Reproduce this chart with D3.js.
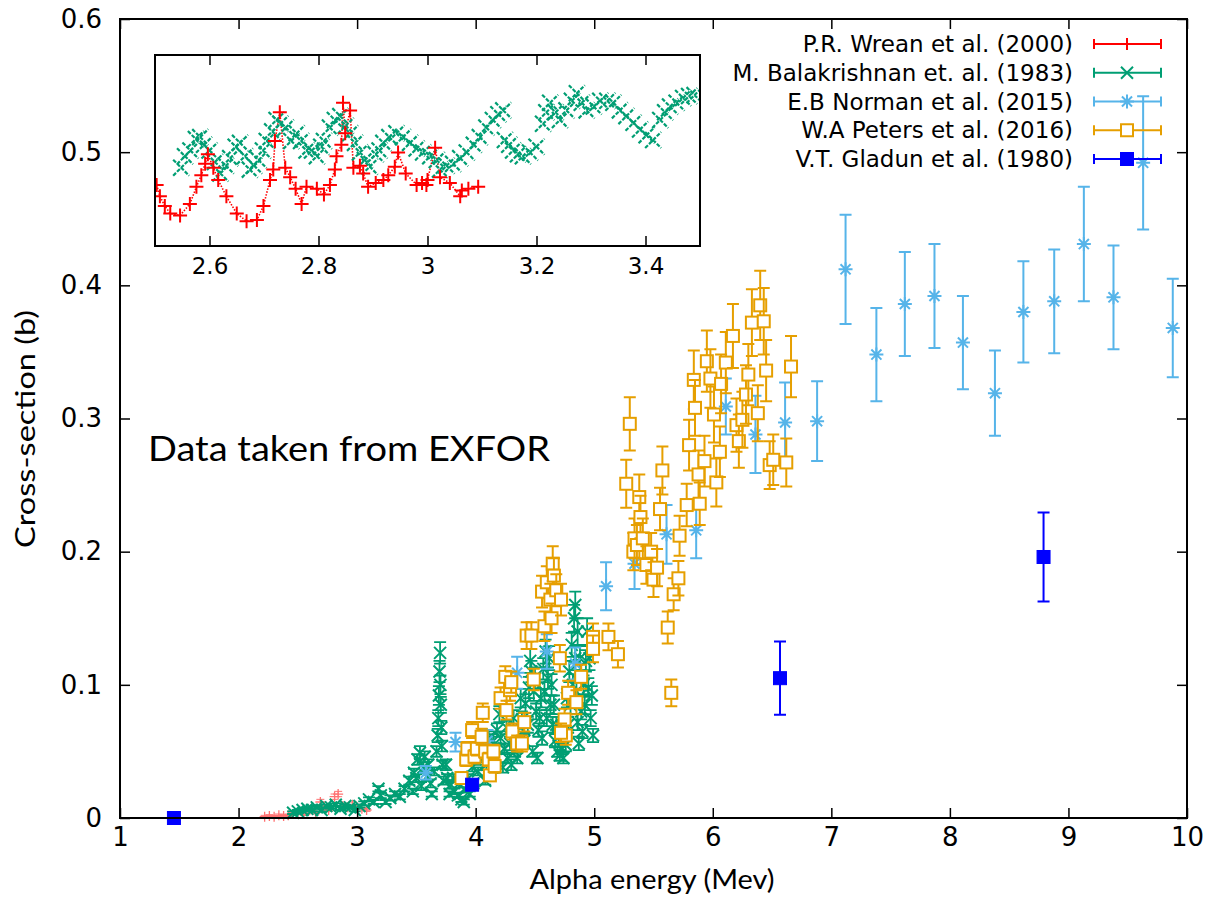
<!DOCTYPE html>
<html>
<head>
<meta charset="utf-8">
<script src="https://cdn.jsdelivr.net/npm/d3@7"></script>
<style>
  body { margin: 0; background: #fff; }
  svg { display: block; }
</style>
</head>
<body>
<svg id="chart" width="1217" height="908"></svg>
<script>

// ---- data: [energy (MeV), cross-section (b), error (b)] ----
var xTicks = [1, 2, 3, 4, 5, 6, 7, 8, 9, 10];
var yTicks = [0, 0.1, 0.2, 0.3, 0.4, 0.5, 0.6];
var insetTicks = [2.6, 2.8, 3.0, 3.2, 3.4];

var seriesNames = ["P.R. Wrean et al. (2000)", "M. Balakrishnan et. al. (1983)",
  "E.B Norman et al. (2015)", "W.A Peters et al. (2016)", "V.T. Gladun et al. (1980)"];

var wrean = [
  [2.22,0.001,0.001],[2.26,0.0015,0.001],[2.30,0.001,0.001],[2.34,0.002,0.001],[2.38,0.0015,0.001],
  [2.42,0.002,0.001],[2.46,0.003,0.001],[2.50,0.004,0.001],[2.55,0.003,0.001],[2.60,0.006,0.001],
  [2.65,0.004,0.001],[2.69,0.012,0.002],[2.72,0.008,0.002],[2.76,0.006,0.001],[2.81,0.016,0.002],
  [2.84,0.018,0.002],[2.88,0.009,0.002],[2.92,0.008,0.001],[2.96,0.010,0.002],[3.00,0.008,0.001],
  [3.04,0.007,0.001],[3.08,0.006,0.001]
];

var balakrishnan = [
  [2.46,0.004,0.001],[2.50,0.005,0.001],[2.54,0.006,0.001],[2.58,0.007,0.001],[2.62,0.006,0.001],
  [2.66,0.008,0.001],[2.70,0.006,0.001],[2.74,0.009,0.001],[2.78,0.008,0.001],[2.82,0.010,0.001],
  [2.86,0.007,0.001],[2.90,0.009,0.001],[2.94,0.008,0.001],[2.98,0.006,0.001],[3.02,0.009,0.001],
  [3.06,0.011,0.0015],[3.10,0.014,0.0015],[3.14,0.012,0.0015],[3.18,0.022,0.002],[3.20,0.017,0.002],
  [3.24,0.012,0.0015],[3.28,0.015,0.002],[3.32,0.018,0.002],[3.36,0.016,0.002],[3.40,0.022,0.002],
  [3.44,0.028,0.003],[3.48,0.034,0.003],[3.51,0.044,0.004],[3.53,0.049,0.005],[3.56,0.038,0.004],
  [3.59,0.031,0.003],[3.62,0.026,0.003],[3.65,0.035,0.003],[3.67,0.050,0.004],
  [3.68,0.062,0.005],[3.685,0.075,0.006],[3.69,0.092,0.007],[3.695,0.110,0.008],[3.70,0.124,0.008],
  [3.703,0.100,0.007],[3.706,0.085,0.006],[3.71,0.068,0.005],[3.715,0.054,0.004],[3.72,0.040,0.003],
  [3.73,0.028,0.003],[3.76,0.030,0.003],[3.79,0.025,0.003],[3.82,0.020,0.002],[3.85,0.017,0.002],
  [3.88,0.014,0.002],[3.91,0.021,0.002],[3.94,0.030,0.003],[3.97,0.038,0.003],[4.00,0.044,0.004],
  [4.03,0.050,0.004],[4.06,0.046,0.004],[4.09,0.040,0.004],[4.12,0.048,0.004],[4.15,0.058,0.005],
  [4.18,0.066,0.005],[4.21,0.060,0.005],[4.24,0.052,0.004],[4.27,0.045,0.004],[4.30,0.040,0.004],
  [4.33,0.050,0.004],[4.36,0.062,0.005],[4.39,0.074,0.006],[4.42,0.086,0.007],[4.45,0.098,0.008],
  [4.47,0.110,0.008],[4.49,0.095,0.007],[4.51,0.080,0.006],[4.53,0.066,0.005],[4.55,0.090,0.007],
  [4.57,0.112,0.008],[4.59,0.125,0.009],[4.61,0.105,0.008],[4.63,0.085,0.007],[4.65,0.070,0.006],
  [4.67,0.058,0.005],[4.69,0.050,0.004],[4.71,0.047,0.004],[4.73,0.052,0.004],[4.75,0.070,0.005],
  [4.77,0.090,0.007],[4.79,0.110,0.008],[4.81,0.130,0.009],[4.83,0.150,0.010],[4.84,0.120,0.009],
  [4.85,0.095,0.008],[4.86,0.072,0.006],[4.87,0.056,0.005],[4.89,0.080,0.006],[4.91,0.100,0.007],
  [4.93,0.118,0.008],[4.95,0.098,0.007],[4.97,0.075,0.006],[4.99,0.062,0.005],
  // second, scattered set of the same measurement (widens the band)
  [3.47,0.020,0.002],[3.50,0.030,0.003],[3.54,0.024,0.003],[3.57,0.046,0.004],[3.60,0.040,0.004],
  [3.63,0.018,0.002],[3.75,0.040,0.004],[3.78,0.018,0.002],[3.81,0.030,0.003],[3.86,0.026,0.003],
  [3.90,0.012,0.002],[3.95,0.018,0.002],[3.98,0.026,0.003],[4.02,0.035,0.003],[4.05,0.062,0.005],
  [4.08,0.028,0.003],[4.11,0.060,0.005],[4.14,0.038,0.004],[4.17,0.052,0.004],[4.20,0.078,0.006],
  [4.23,0.038,0.004],[4.26,0.068,0.005],[4.29,0.056,0.005],[4.32,0.075,0.006],[4.35,0.045,0.004],
  [4.38,0.090,0.007],[4.41,0.058,0.005],[4.44,0.070,0.006],[4.46,0.118,0.009],[4.48,0.050,0.004],
  [4.50,0.105,0.008],[4.52,0.045,0.004],[4.54,0.075,0.006],[4.56,0.060,0.005],[4.58,0.095,0.007],
  [4.60,0.075,0.006],[4.62,0.120,0.009],[4.64,0.100,0.008],[4.66,0.085,0.007],[4.68,0.070,0.006],
  [4.70,0.062,0.005],[4.72,0.068,0.005],[4.74,0.045,0.004],[4.76,0.055,0.005],[4.78,0.070,0.006],
  [4.80,0.085,0.007],[4.82,0.100,0.008],[4.84,0.160,0.010],[4.86,0.140,0.010],[4.88,0.120,0.009],
  [4.90,0.065,0.005],[4.92,0.085,0.007],[4.94,0.140,0.010],[4.96,0.120,0.009],[4.98,0.092,0.007]
];

var norman = [
  [3.58,0.034,0.005],[3.83,0.057,0.007],[4.10,0.058,0.008],[4.35,0.109,0.012],[4.60,0.125,0.013],
  [4.84,0.116,0.012],[5.10,0.174,0.018],[5.34,0.191,0.019],[5.61,0.213,0.022],[5.86,0.216,0.021],
  [6.11,0.309,0.021],[6.36,0.288,0.029],[6.61,0.297,0.030],[6.88,0.298,0.030],[7.12,0.412,0.041],
  [7.38,0.348,0.035],[7.62,0.386,0.039],[7.87,0.392,0.039],[8.11,0.357,0.035],[8.38,0.319,0.032],
  [8.62,0.380,0.038],[8.88,0.388,0.039],[9.13,0.431,0.043],[9.38,0.391,0.039],[9.63,0.492,0.050],
  [9.88,0.368,0.037]
];

var peters = [
  [3.88,0.030,0.004],[3.92,0.044,0.005],[3.93,0.052,0.005],[3.97,0.066,0.006],[3.99,0.046,0.005],
  [4.01,0.052,0.005],[4.05,0.061,0.006],[4.06,0.079,0.007],[4.08,0.050,0.005],[4.11,0.044,0.005],
  [4.12,0.032,0.004],[4.15,0.050,0.005],[4.16,0.039,0.005],[4.21,0.090,0.008],[4.25,0.106,0.008],
  [4.26,0.081,0.007],[4.29,0.096,0.008],[4.30,0.102,0.008],[4.31,0.065,0.006],[4.35,0.056,0.006],
  [4.39,0.056,0.006],[4.41,0.072,0.007],[4.43,0.137,0.010],[4.47,0.137,0.010],[4.49,0.104,0.008],
  [4.56,0.170,0.012],[4.58,0.144,0.011],[4.60,0.177,0.012],[4.63,0.164,0.012],[4.64,0.150,0.011],
  [4.65,0.191,0.013],[4.66,0.182,0.013],[4.68,0.171,0.012],[4.72,0.164,0.012],[4.71,0.120,0.010],
  [4.78,0.094,0.009],[4.75,0.074,0.008],[4.76,0.062,0.007],[4.72,0.064,0.007],[4.85,0.087,0.009],
  [4.89,0.106,0.009],[4.99,0.136,0.010],[4.99,0.127,0.010],[5.12,0.136,0.010],[5.20,0.123,0.010],
  [5.33,0.200,0.014],[5.27,0.251,0.018],[5.30,0.296,0.020],[5.34,0.210,0.015],[5.36,0.205,0.015],
  [5.38,0.241,0.017],[5.39,0.226,0.016],[5.41,0.210,0.015],[5.44,0.190,0.014],[5.48,0.200,0.014],
  [5.50,0.179,0.013],[5.53,0.188,0.014],[5.555,0.232,0.016],[5.575,0.261,0.018],[5.62,0.143,0.012],
  [5.65,0.094,0.010],[5.67,0.168,0.012],[5.71,0.180,0.013],[5.72,0.212,0.015],[5.78,0.235,0.016],
  [5.80,0.280,0.019],[5.84,0.329,0.022],[5.85,0.308,0.021],[5.88,0.258,0.018],[5.89,0.236,0.016],
  [5.93,0.268,0.019],[5.95,0.343,0.023],[5.98,0.330,0.022],[6.01,0.303,0.021],[6.03,0.252,0.018],
  [6.06,0.275,0.019],[6.07,0.326,0.022],[6.11,0.342,0.023],[6.17,0.362,0.024],[6.20,0.295,0.020],
  [6.22,0.283,0.020],[6.25,0.299,0.021],[6.28,0.318,0.022],[6.30,0.333,0.023],[6.33,0.372,0.025],
  [6.38,0.304,0.021],[6.40,0.385,0.026],[6.43,0.373,0.025],[6.45,0.336,0.023],[6.48,0.265,0.018],
  [6.51,0.269,0.019],[6.62,0.267,0.018],[6.66,0.339,0.023]
];

var gladun = [
  [1.455,0.0,0.0],[3.97,0.025,0.0],[6.567,0.105,0.0275],[8.79,0.196,0.0335]
];

// inset (2.5 - 3.5 MeV), relative height inside the inset box
var wreanInset = [
  [2.503,0.32],[2.509,0.26],[2.518,0.21],[2.528,0.17],[2.546,0.16],[2.564,0.22],[2.576,0.31],
  [2.585,0.37],[2.592,0.43],[2.597,0.48],[2.607,0.41],[2.616,0.345],[2.631,0.26],[2.65,0.17],
  [2.668,0.13],[2.687,0.136],[2.699,0.21],[2.711,0.345],[2.717,0.40],[2.72,0.55],[2.729,0.70],
  [2.739,0.41],[2.748,0.36],[2.758,0.30],[2.769,0.22],[2.778,0.31],[2.797,0.30],[2.81,0.27],
  [2.821,0.32],[2.83,0.40],[2.833,0.47],[2.842,0.53],[2.845,0.75],[2.849,0.59],[2.858,0.71],
  [2.864,0.41],[2.876,0.42],[2.882,0.38],[2.891,0.31],[2.905,0.33],[2.919,0.345],[2.928,0.37],
  [2.94,0.415],[2.946,0.49],[2.96,0.38],[2.98,0.32],[2.99,0.33],[2.998,0.32],[3.0,0.345],
  [3.014,0.515],[3.023,0.36],[3.041,0.33],[3.06,0.26],[3.063,0.29],[3.075,0.30],[3.093,0.31]
];

var balakrishnanInset = [
  [2.548,0.41],[2.555,0.47],[2.565,0.50],[2.575,0.56],[2.583,0.57],[2.59,0.53],[2.60,0.50],
  [2.61,0.44],[2.62,0.38],[2.63,0.42],[2.638,0.46],[2.648,0.52],[2.656,0.54],[2.665,0.47],
  [2.674,0.40],[2.682,0.42],[2.69,0.45],[2.698,0.50],[2.705,0.55],[2.715,0.60],[2.723,0.66],
  [2.73,0.64],[2.74,0.62],[2.75,0.55],[2.76,0.59],[2.768,0.55],[2.778,0.50],[2.788,0.50],
  [2.797,0.47],[2.805,0.52],[2.81,0.55],[2.821,0.62],[2.83,0.66],[2.84,0.68],[2.85,0.63],
  [2.858,0.59],[2.867,0.54],[2.876,0.49],[2.885,0.45],[2.894,0.415],[2.905,0.48],[2.912,0.50],
  [2.919,0.54],[2.93,0.57],[2.943,0.59],[2.955,0.57],[2.968,0.54],[2.98,0.51],[2.992,0.49],
  [3.005,0.47],[3.017,0.45],[3.023,0.40],[3.035,0.42],[3.047,0.43],[3.06,0.46],[3.072,0.49],
  [3.085,0.53],[3.096,0.57],[3.108,0.62],[3.12,0.66],[3.13,0.69],[3.139,0.71],[3.142,0.555],
  [3.15,0.53],[3.157,0.50],[3.166,0.48],[3.175,0.47],[3.188,0.49],[3.20,0.52],[3.212,0.64],
  [3.218,0.70],[3.225,0.75],[3.235,0.70],[3.243,0.66],[3.255,0.71],[3.265,0.76],[3.274,0.80],
  [3.283,0.75],[3.292,0.71],[3.305,0.73],[3.317,0.76],[3.33,0.76],[3.341,0.75],[3.353,0.71],
  [3.365,0.68],[3.378,0.645],[3.39,0.61],[3.402,0.58],[3.414,0.555],[3.427,0.66],[3.436,0.70],
  [3.445,0.73],[3.457,0.75],[3.469,0.775],[3.48,0.785],[3.49,0.79]
];

// ---- drawing ----
var svg = d3.select("#chart");
var plotLeft = 120, plotRight = 1187, plotTop = 19, plotBottom = 818;

var x = d3.scaleLinear().domain([1, 10]).range([plotLeft, plotRight]);
var y = d3.scaleLinear().domain([0, 0.6]).range([plotBottom, plotTop]);

var red = "#ff0000", green = "#009e73", sky = "#56b4e9", orange = "#e69f00", blue = "#0000ff";
var tickFont = "'DejaVu Sans', sans-serif";
var labelFont = "Lato, 'Open Sans', sans-serif";

svg.append("rect").attr("width", 1217).attr("height", 908).attr("fill", "#fff");

var defs = svg.append("defs");
// points on the frame stay whole, so the clip is a little bigger than the frame
defs.append("clipPath").attr("id", "plotclip")
  .append("rect").attr("x", plotLeft - 8).attr("y", plotTop)
  .attr("width", plotRight - plotLeft + 16).attr("height", plotBottom - plotTop + 8);

function markerPath(type, px, py, r) 
{
  if (type === "plus")
    return "M" + (px - r) + "," + py + "H" + (px + r) + "M" + px + "," + (py - r) + "V" + (py + r);
  if (type === "cross")
    return "M" + (px - r) + "," + (py - r) + "L" + (px + r) + "," + (py + r) +
           "M" + (px - r) + "," + (py + r) + "L" + (px + r) + "," + (py - r);
  if (type === "star") {
    var k = r * 0.72;
    return markerPath("plus", px, py, r) +
           "M" + (px - k) + "," + (py - k) + "L" + (px + k) + "," + (py + k) +
           "M" + (px - k) + "," + (py + k) + "L" + (px + k) + "," + (py - k);
  }
  return "";
}

function drawMarker(g, type, px, py, r, color, sw) 
{
  if (type === "box" || type === "fbox") {
    g.append("rect")
      .attr("x", px - r).attr("y", py - r)
      .attr("width", 2 * r).attr("height", 2 * r)
      .attr("fill", type === "fbox" ? color : "#fff")
      .attr("stroke", color).attr("stroke-width", type === "fbox" ? 1 : sw);
  } else {
    g.append("path").attr("d", markerPath(type, px, py, r))
      .attr("stroke", color).attr("stroke-width", sw).attr("fill", "none");
  }
}

function drawSeries(layer, data, type, color, opt) 
{
  var g = layer.append("g").attr("opacity", opt.opacity || 1);
  data.forEach(function(d) 
  {
    var px = x(d[0]), py = y(d[1]);
    if (d[2] > 0) {
      var y1 = y(d[1] + d[2]), y2 = y(d[1] - d[2]), c = opt.cap;
      g.append("path")
        .attr("d", "M" + px + "," + y1 + "V" + y2 +
                   "M" + (px - c) + "," + y1 + "H" + (px + c) +
                   "M" + (px - c) + "," + y2 + "H" + (px + c))
        .attr("stroke", color).attr("stroke-width", opt.bar).attr("fill", "none");
    }
    drawMarker(g, type, px, py, opt.r, color, opt.sw);
  });
}

var plot = svg.append("g").attr("clip-path", "url(#plotclip)");

drawSeries(plot, wrean, "plus", red, { r: 5, sw: 1.3, bar: 1, cap: 4, opacity: 0.55 });
drawSeries(plot, balakrishnan, "cross", green, { r: 6, sw: 2, bar: 1.8, cap: 6 });
drawSeries(plot, norman, "star", sky, { r: 7, sw: 2, bar: 2, cap: 6 });
drawSeries(plot, peters, "box", orange, { r: 6, sw: 2, bar: 2, cap: 6 });
drawSeries(plot, gladun, "fbox", blue, { r: 6.5, sw: 2, bar: 2, cap: 6 });

// ---- axes (ticks pointing inward, mirrored) ----
var axB = svg.append("g").attr("transform", "translate(0," + plotBottom + ")")
  .call(d3.axisBottom(x).tickValues(xTicks).tickSize(-10).tickPadding(10).tickFormat(d3.format("d")));
var axT = svg.append("g").attr("transform", "translate(0," + plotTop + ")")
  .call(d3.axisTop(x).tickValues(xTicks).tickSize(-10).tickFormat(""));
var axL = svg.append("g").attr("transform", "translate(" + plotLeft + ",0)")
  .call(d3.axisLeft(y).tickValues(yTicks).tickSize(-10).tickPadding(18)
    .tickFormat(function(d) { return d === 0 ? "0" : d3.format(".1f")(d); }));
var axR = svg.append("g").attr("transform", "translate(" + plotRight + ",0)")
  .call(d3.axisRight(y).tickValues(yTicks).tickSize(-10).tickFormat(""));

[axB, axT, axL, axR].forEach(function(a) 
{
  a.select(".domain").remove();
  a.selectAll("line").attr("stroke", "#000").attr("stroke-width", 1.5);
  a.selectAll("text").attr("fill", "#000").style("font-family", tickFont).style("font-size", "26px");
});

svg.append("rect")
  .attr("x", plotLeft).attr("y", plotTop).attr("width", plotRight - plotLeft).attr("height", plotBottom - plotTop)
  .attr("fill", "none").attr("stroke", "#000").attr("stroke-width", 2);

// axis titles
svg.append("text").text("Alpha energy (Mev)")
  .attr("x", 652).attr("y", 889).attr("text-anchor", "middle")
  .attr("textLength", 245).attr("lengthAdjust", "spacingAndGlyphs")
  .style("font-family", labelFont).style("font-size", "26px");

svg.append("text").text("Cross-section (b)")
  .attr("transform", "translate(35,429) rotate(-90)").attr("text-anchor", "middle")
  .attr("textLength", 238).attr("lengthAdjust", "spacingAndGlyphs")
  .style("font-family", labelFont).style("font-size", "26px");

svg.append("text").text("Data taken from EXFOR")
  .attr("x", 148).attr("y", 461)
  .attr("textLength", 402).attr("lengthAdjust", "spacingAndGlyphs")
  .style("font-family", labelFont).style("font-size", "34px");

// ---- legend ----
var legendRows = [
  { type: "plus", color: red, r: 6 },
  { type: "cross", color: green, r: 6 },
  { type: "star", color: sky, r: 7 },
  { type: "box", color: orange, r: 6 },
  { type: "fbox", color: blue, r: 6.5 }
];
var legendY = d3.scalePoint().domain(d3.range(seriesNames.length)).range([44, 159]);

seriesNames.forEach(function(name, i) 
{
  var ly = legendY(i), row = legendRows[i];
  var g = svg.append("g");
  g.append("text").text(name)
    .attr("x", 1073).attr("y", ly + 8).attr("text-anchor", "end")
    .style("font-family", tickFont).style("font-size", "23px");
  g.append("path")
    .attr("d", "M1094," + ly + "H1161M1094," + (ly - 5) + "V" + (ly + 5) + "M1161," + (ly - 5) + "V" + (ly + 5))
    .attr("stroke", row.color).attr("stroke-width", 2).attr("fill", "none");
  drawMarker(g, row.type, 1127, ly, row.r, row.color, 2);
});

// ---- inset ----
var xi = d3.scaleLinear().domain([2.5, 3.5]).range([155, 700]);
var yi = d3.scaleLinear().domain([0, 1]).range([246, 55]);

var inset = svg.append("g");
inset.append("rect")
  .attr("x", 155).attr("y", 55).attr("width", 545).attr("height", 191)
  .attr("fill", "#fff");

defs.append("clipPath").attr("id", "insetclip")
  .append("rect").attr("x", 155).attr("y", 55).attr("width", 545).attr("height", 191);

var insetData = inset.append("g").attr("clip-path", "url(#insetclip)");

insetData.append("path")
  .datum(wreanInset)
  .attr("d", d3.line().x(function(d) { return xi(d[0]); }).y(function(d) { return yi(d[1]); }))
  .attr("fill", "none").attr("stroke", red).attr("stroke-width", 1.6)
  .attr("stroke-dasharray", "1.5,1.5");

balakrishnanInset.forEach(function(d) 
{
  insetData.append("path").attr("d", markerPath("cross", xi(d[0]), yi(d[1]), 8))
    .attr("stroke", green).attr("stroke-width", 2.2).attr("fill", "none")
    .attr("stroke-dasharray", "4,1.5");
});

wreanInset.forEach(function(d) 
{
  insetData.append("path").attr("d", markerPath("plus", xi(d[0]), yi(d[1]), 7))
    .attr("stroke", red).attr("stroke-width", 2).attr("fill", "none");
});

var iB = inset.append("g").attr("transform", "translate(0,246)")
  .call(d3.axisBottom(xi).tickValues(insetTicks).tickSize(-10).tickPadding(12)
    .tickFormat(function(d) { return d === 3 ? "3" : d3.format(".1f")(d); }));
var iT = inset.append("g").attr("transform", "translate(0,55)")
  .call(d3.axisTop(xi).tickValues(insetTicks).tickSize(-10).tickFormat(""));

[iB, iT].forEach(function(a) 
{
  a.select(".domain").remove();
  a.selectAll("line").attr("stroke", "#000").attr("stroke-width", 1.5);
  a.selectAll("text").attr("fill", "#000").style("font-family", tickFont).style("font-size", "23px");
});

inset.append("rect")
  .attr("x", 155).attr("y", 55).attr("width", 545).attr("height", 191)
  .attr("fill", "none").attr("stroke", "#000").attr("stroke-width", 2);

</script>
</body>
</html>
